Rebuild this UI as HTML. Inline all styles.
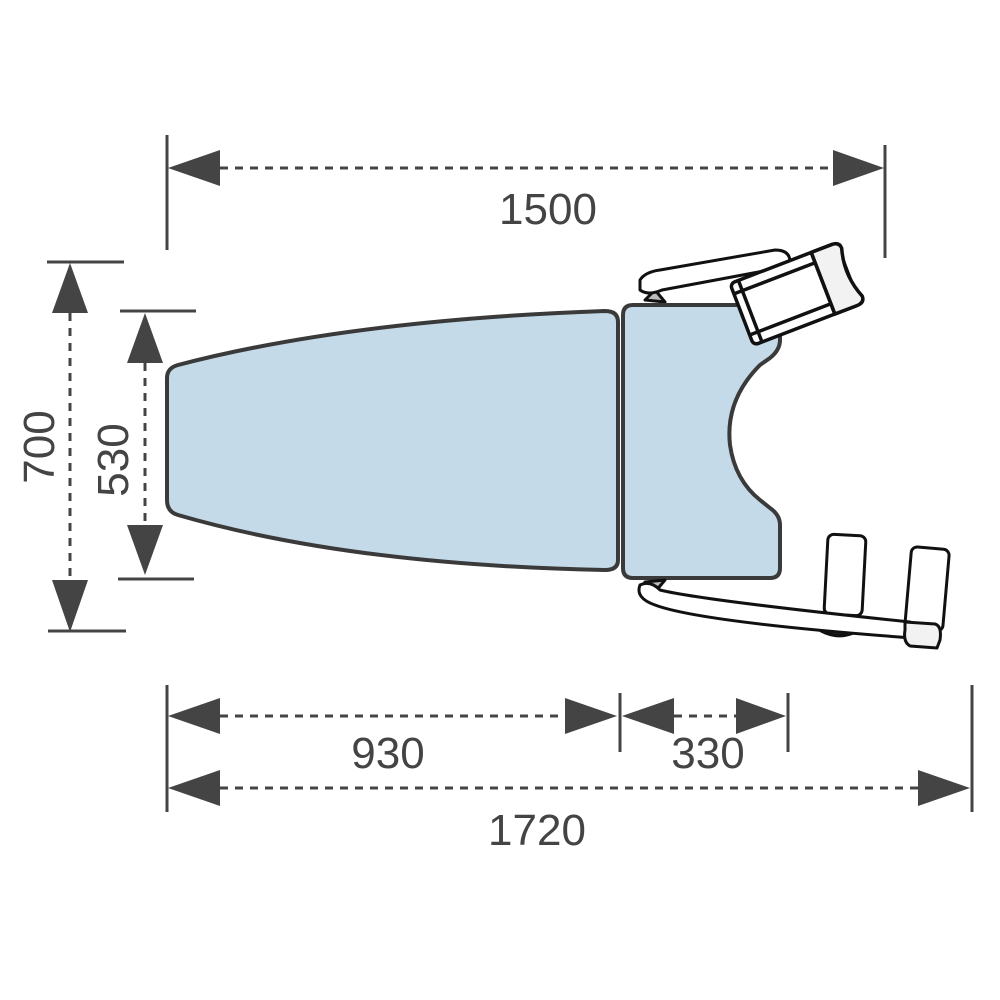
<!DOCTYPE html>
<html><head><meta charset="utf-8"><style>
html,body{margin:0;padding:0;background:#fff;}
svg{display:block}
text{font-family:"Liberation Sans",sans-serif;fill:#444;font-size:44px;}
</style></head><body>
<svg width="1000" height="1000" viewBox="0 0 1000 1000">
<g stroke="#444" stroke-width="3" fill="none">
 <line x1="167" y1="135" x2="167" y2="250"/>
 <line x1="885" y1="145" x2="885" y2="258"/>
 <line x1="220" y1="168" x2="835" y2="168" stroke-dasharray="8,7"/>
 <line x1="47" y1="262" x2="124" y2="262"/>
 <line x1="48" y1="631" x2="126" y2="631"/>
 <line x1="70" y1="313" x2="70" y2="580" stroke-dasharray="8,7"/>
 <line x1="120" y1="311" x2="196" y2="311"/>
 <line x1="118" y1="579" x2="194" y2="579"/>
 <line x1="145" y1="363" x2="145" y2="525" stroke-dasharray="8,7"/>
 <line x1="167" y1="685" x2="167" y2="812"/>
 <line x1="620" y1="693" x2="620" y2="752"/>
 <line x1="788" y1="693" x2="788" y2="752"/>
 <line x1="972" y1="685" x2="972" y2="812"/>
 <line x1="220" y1="716" x2="565" y2="716" stroke-dasharray="8,7"/>
 <line x1="674" y1="716" x2="736" y2="716" stroke-dasharray="8,7"/>
 <line x1="220" y1="788" x2="918" y2="788" stroke-dasharray="8,7"/>
</g>
<g fill="#444">
 <polygon points="168,168 220,150 220,186"/>
 <polygon points="884,168 833,150 833,186"/>
 <polygon points="70,263 52,313 88,313"/>
 <polygon points="70,632 52,580 88,580"/>
 <polygon points="145,313 127,363 163,363"/>
 <polygon points="145,575 127,525 163,525"/>
 <polygon points="168,716 220,698 220,734"/>
 <polygon points="617,716 565,698 565,734"/>
 <polygon points="622,716 674,698 674,734"/>
 <polygon points="786,716 736,698 736,734"/>
 <polygon points="168,788 220,770 220,806"/>
 <polygon points="970,788 918,770 918,806"/>
</g>
<text x="548" y="224" text-anchor="middle">1500</text>
<text x="388" y="768" text-anchor="middle">930</text>
<text x="708" y="768" text-anchor="middle">330</text>
<text x="537" y="845" text-anchor="middle">1720</text>
<text transform="translate(54,447) rotate(-90)" text-anchor="middle">700</text>
<text transform="translate(128,460) rotate(-90)" text-anchor="middle">530</text>

<g stroke="#111" stroke-width="3" stroke-linejoin="round">
 <path d="M645,300 L655,290 L665,302 Z" fill="#bbb"/>
 <path d="M640,280 Q645,272 660,270 L775,250 Q790,250 790,262 L780,268 L662,290 Q648,296 640,290 Z" fill="#fff"/>
</g>
<g stroke="#3a3a3a" stroke-width="4" fill="#c4dae8" stroke-linejoin="round">
 <path d="M178,365 Q350,320 605,311 Q618,311 618,322 L618,560 Q618,570 605,570 Q350,565 178,515 Q167,512 167,500 L167,378 Q167,368 178,365 Z"/>
 <path d="M633,305 L770,305 Q780,305 780,315 L780,340 Q780,350 770,358 L760,365 Q725,400 730,445 Q735,480 760,500 L770,508 Q780,515 780,525 L780,568 Q780,578 770,578 L633,578 Q623,578 623,568 L623,315 Q623,305 633,305 Z"/>
</g>
<g stroke="#111" stroke-width="3.5" stroke-linejoin="round">
 <g transform="translate(795,294) rotate(-21)">
  <rect x="-57" y="-33" width="114" height="66" rx="5" fill="#fff"/>
  <line x1="-57" y1="-22" x2="30" y2="-22"/>
  <line x1="-57" y1="22" x2="30" y2="22"/>
  <line x1="-48" y1="-33" x2="-48" y2="33"/>
  <path d="M30,-33 L52,-33 Q60,-33 60,-26 Q52,0 62,26 Q62,33 54,33 L30,33 Z" fill="#f2f2f2"/>
  <line x1="30" y1="-33" x2="30" y2="33"/>
 </g>
</g>
<g stroke="#111" stroke-width="3" stroke-linejoin="round">
 <path d="M645,582 L655,592 L665,580 Z" fill="#bbb"/>
 <path d="M812,625 Q838,645 862,628 Z" fill="#222"/>
 <g transform="rotate(3 845 575)"><rect x="826" y="535" width="38" height="80" rx="6" fill="#fff"/></g>
 <g transform="rotate(5 927 590)"><rect x="908" y="548" width="38" height="82" rx="6" fill="#fff"/></g>
 <path d="M640,585 Q650,580 660,590 Q700,600 910,622 L912,638 Q700,622 655,605 Q635,598 640,585 Z" fill="#fff"/>
 <path d="M905,622 L935,624 Q942,626 940,640 L937,648 L910,646 Q903,642 905,630 Z" fill="#f2f2f2"/>
</g>
</svg>
</body></html>
